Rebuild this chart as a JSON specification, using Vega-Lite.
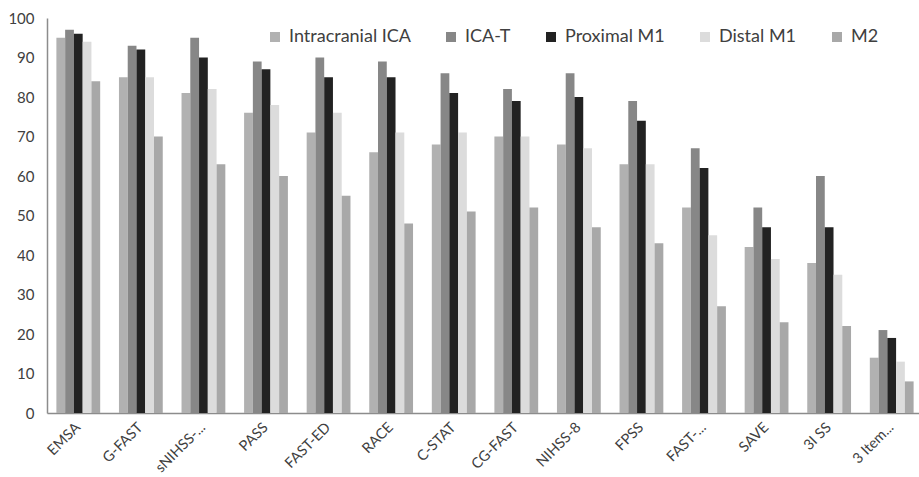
{
  "$schema": "https://vega.github.io/schema/vega-lite/v6.json",
  "autosize": "none",
  "width": 876,
  "height": 395,
  "padding": {"left": 47, "top": 18, "right": 0, "bottom": 64},
  "background": "white",
  "config": {
    "font": "Lato",
    "view": {"stroke": null}
  },
  "data": {
    "values": [
      {"scale": "EMSA", "site": "Intracranial ICA", "value": 95},
      {"scale": "EMSA", "site": "ICA-T", "value": 97},
      {"scale": "EMSA", "site": "Proximal M1", "value": 96},
      {"scale": "EMSA", "site": "Distal M1", "value": 94},
      {"scale": "EMSA", "site": "M2", "value": 84},
      {"scale": "G-FAST", "site": "Intracranial ICA", "value": 85},
      {"scale": "G-FAST", "site": "ICA-T", "value": 93},
      {"scale": "G-FAST", "site": "Proximal M1", "value": 92},
      {"scale": "G-FAST", "site": "Distal M1", "value": 85},
      {"scale": "G-FAST", "site": "M2", "value": 70},
      {"scale": "sNIHSS-...", "site": "Intracranial ICA", "value": 81},
      {"scale": "sNIHSS-...", "site": "ICA-T", "value": 95},
      {"scale": "sNIHSS-...", "site": "Proximal M1", "value": 90},
      {"scale": "sNIHSS-...", "site": "Distal M1", "value": 82},
      {"scale": "sNIHSS-...", "site": "M2", "value": 63},
      {"scale": "PASS", "site": "Intracranial ICA", "value": 76},
      {"scale": "PASS", "site": "ICA-T", "value": 89},
      {"scale": "PASS", "site": "Proximal M1", "value": 87},
      {"scale": "PASS", "site": "Distal M1", "value": 78},
      {"scale": "PASS", "site": "M2", "value": 60},
      {"scale": "FAST-ED", "site": "Intracranial ICA", "value": 71},
      {"scale": "FAST-ED", "site": "ICA-T", "value": 90},
      {"scale": "FAST-ED", "site": "Proximal M1", "value": 85},
      {"scale": "FAST-ED", "site": "Distal M1", "value": 76},
      {"scale": "FAST-ED", "site": "M2", "value": 55},
      {"scale": "RACE", "site": "Intracranial ICA", "value": 66},
      {"scale": "RACE", "site": "ICA-T", "value": 89},
      {"scale": "RACE", "site": "Proximal M1", "value": 85},
      {"scale": "RACE", "site": "Distal M1", "value": 71},
      {"scale": "RACE", "site": "M2", "value": 48},
      {"scale": "C-STAT", "site": "Intracranial ICA", "value": 68},
      {"scale": "C-STAT", "site": "ICA-T", "value": 86},
      {"scale": "C-STAT", "site": "Proximal M1", "value": 81},
      {"scale": "C-STAT", "site": "Distal M1", "value": 71},
      {"scale": "C-STAT", "site": "M2", "value": 51},
      {"scale": "CG-FAST", "site": "Intracranial ICA", "value": 70},
      {"scale": "CG-FAST", "site": "ICA-T", "value": 82},
      {"scale": "CG-FAST", "site": "Proximal M1", "value": 79},
      {"scale": "CG-FAST", "site": "Distal M1", "value": 70},
      {"scale": "CG-FAST", "site": "M2", "value": 52},
      {"scale": "NIHSS-8", "site": "Intracranial ICA", "value": 68},
      {"scale": "NIHSS-8", "site": "ICA-T", "value": 86},
      {"scale": "NIHSS-8", "site": "Proximal M1", "value": 80},
      {"scale": "NIHSS-8", "site": "Distal M1", "value": 67},
      {"scale": "NIHSS-8", "site": "M2", "value": 47},
      {"scale": "FPSS", "site": "Intracranial ICA", "value": 63},
      {"scale": "FPSS", "site": "ICA-T", "value": 79},
      {"scale": "FPSS", "site": "Proximal M1", "value": 74},
      {"scale": "FPSS", "site": "Distal M1", "value": 63},
      {"scale": "FPSS", "site": "M2", "value": 43},
      {"scale": "FAST-...", "site": "Intracranial ICA", "value": 52},
      {"scale": "FAST-...", "site": "ICA-T", "value": 67},
      {"scale": "FAST-...", "site": "Proximal M1", "value": 62},
      {"scale": "FAST-...", "site": "Distal M1", "value": 45},
      {"scale": "FAST-...", "site": "M2", "value": 27},
      {"scale": "SAVE", "site": "Intracranial ICA", "value": 42},
      {"scale": "SAVE", "site": "ICA-T", "value": 52},
      {"scale": "SAVE", "site": "Proximal M1", "value": 47},
      {"scale": "SAVE", "site": "Distal M1", "value": 39},
      {"scale": "SAVE", "site": "M2", "value": 23},
      {"scale": "3I SS", "site": "Intracranial ICA", "value": 38},
      {"scale": "3I SS", "site": "ICA-T", "value": 60},
      {"scale": "3I SS", "site": "Proximal M1", "value": 47},
      {"scale": "3I SS", "site": "Distal M1", "value": 35},
      {"scale": "3I SS", "site": "M2", "value": 22},
      {"scale": "3 Item...", "site": "Intracranial ICA", "value": 14},
      {"scale": "3 Item...", "site": "ICA-T", "value": 21},
      {"scale": "3 Item...", "site": "Proximal M1", "value": 19},
      {"scale": "3 Item...", "site": "Distal M1", "value": 13},
      {"scale": "3 Item...", "site": "M2", "value": 8}
    ]
  },
  "mark": {"type": "bar"},
  "encoding": {
    "x": {
      "field": "scale",
      "type": "nominal",
      "sort": null,
      "title": null,
      "scale": {"paddingInner": 0.3, "paddingOuter": 0.15},
      "axis": {
        "labelAngle": -45,
        "labelAlign": "right",
        "labelBaseline": "middle",
        "labelFontSize": 14.5,
        "labelColor": "#404040",
        "labelPadding": 12,
        "ticks": false,
        "domainColor": "#8c8c8c",
        "domainWidth": 1.5
      }
    },
    "xOffset": {
      "field": "site",
      "type": "nominal",
      "sort": ["Intracranial ICA", "ICA-T", "Proximal M1", "Distal M1", "M2"]
    },
    "y": {
      "field": "value",
      "type": "quantitative",
      "title": null,
      "scale": {"domain": [0, 100], "nice": false},
      "axis": {
        "values": [0, 10, 20, 30, 40, 50, 60, 70, 80, 90, 100],
        "grid": false,
        "ticks": false,
        "labelFontSize": 15,
        "labelColor": "#404040",
        "labelPadding": 13,
        "domainColor": "#8c8c8c",
        "domainWidth": 1.5
      }
    },
    "color": {
      "field": "site",
      "type": "nominal",
      "sort": ["Intracranial ICA", "ICA-T", "Proximal M1", "Distal M1", "M2"],
      "scale": {
        "domain": ["Intracranial ICA", "ICA-T", "Proximal M1", "Distal M1", "M2"],
        "range": ["#b1b1b1", "#878787", "#222222", "#dcdcdc", "#a8a8a8"]
      },
      "legend": {
        "title": null,
        "orient": "none",
        "direction": "horizontal",
        "legendX": 219,
        "legendY": 10,
        "symbolType": "square",
        "symbolSize": 100,
        "symbolStrokeWidth": 0,
        "labelFontSize": 18,
        "labelColor": "#404040",
        "labelOffset": 5,
        "columnPadding": 31
      }
    }
  }
}
